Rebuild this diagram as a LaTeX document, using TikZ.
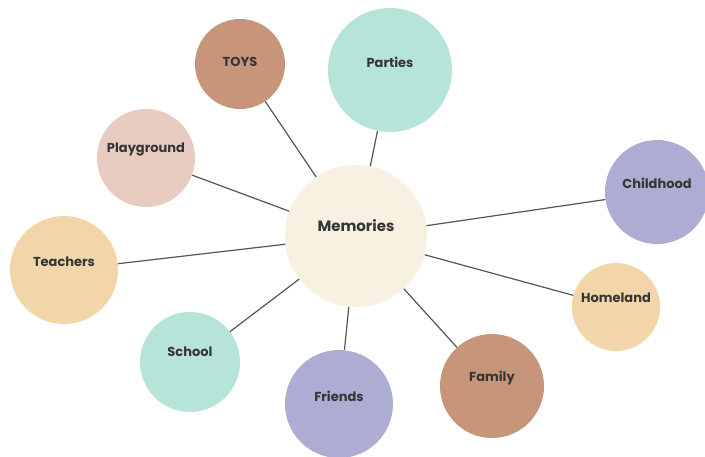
\documentclass[tikz,border=0pt]{standalone}
\usepackage{fontspec}
\setmainfont{Poppins}
\usepackage{xcolor}
\definecolor{cream}{HTML}{F8F1E2}
\definecolor{clay}{HTML}{C6957A}
\definecolor{mint}{HTML}{B7E4D9}
\definecolor{blush}{HTML}{E9CCC1}
\definecolor{lilac}{HTML}{ADADD4}
\definecolor{peach}{HTML}{F2D5A8}
\definecolor{ink}{HTML}{353535}
\definecolor{wire}{HTML}{555555}

\begin{document}
\begin{tikzpicture}[
			x=1pt, y=-1pt,
			bubble/.style={circle, inner sep=0pt, minimum size=#1},
			word/.style={font=\bfseries\fontsize{13}{14}\selectfont, text=ink},
			link/.style={draw=wire, line width=1.2pt},
		]
			\useasboundingbox (0,0) rectangle (705,456);
			% hub
			\node[bubble=142pt, fill=cream,
				label={[word, font=\bfseries\fontsize{15}{17}\selectfont, yshift=10pt]center:Memories}]
				(mem) at (356,236) {};
			% topics
			\node[bubble=90pt, fill=clay, label={[word, yshift=2pt]center:TOYS}] (toys) at (240,64) {};
			\node[bubble=124pt, fill=mint, label={[word, yshift=8pt]center:Parties}] (parties) at (390,70) {};
			\node[bubble=98pt, fill=blush, label={[word, yshift=9pt]center:Playground}] (play) at (146,158) {};
			\node[bubble=104pt, fill=lilac, label={[word, yshift=9pt]center:Childhood}] (child) at (657,192) {};
			\node[bubble=108pt, fill=peach, label={[word, yshift=8pt]center:Teachers}] (teach) at (64,270) {};
			\node[bubble=88pt, fill=peach, label={[word, yshift=9pt]center:Homeland}] (home) at (616,307) {};
			\node[bubble=100pt, fill=mint, label={[word, yshift=10pt]center:School}] (school) at (190,362) {};
			\node[bubble=108pt, fill=lilac, label={[word, yshift=8pt]center:Friends}] (friends) at (339,404) {};
			\node[bubble=104pt, fill=clay, label={[word, yshift=8pt]center:Family}] (family) at (492,386) {};
			% spokes
			\foreach \t in {toys, parties, play, child, teach, home, school, friends, family}
				\draw[link] (mem) -- (\t);
		\end{tikzpicture}
\end{document}
